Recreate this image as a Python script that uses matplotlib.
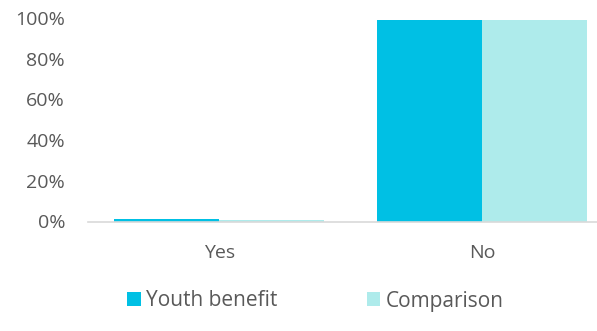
import matplotlib
matplotlib.use("Agg")

import matplotlib.pyplot as plt
import numpy as np

categories = ["Yes", "No"]
youth_benefit = [0.01, 0.99]
comparison = [0.005, 0.99]
y_ticks = [0, 0.2, 0.4, 0.6, 0.8, 1.0]
y_tick_labels = ["0%", "20%", "40%", "60%", "80%", "100%"]

plt.rcParams["font.family"] = ["Open Sans", "DejaVu Sans"]
TEXT = "#595959"

fig = plt.figure(figsize=(5.97, 3.31), dpi=100)
ax = fig.add_axes([88 / 597, 1 - 221.5 / 331, 1 - 88 / 597, (221.5 - 18) / 331])

x = np.arange(len(categories))
w = 0.4
ax.bar(x - w / 2, youth_benefit, w, color="#00C0E4", label="Youth benefit")
ax.bar(x + w / 2, comparison, w, color="#AEEBEB", label="Comparison")

ax.set_xlim(-0.5, 1.5 - 16.5 / 263)
ax.set_ylim(0, 1)
ax.set_xticks(x)
ax.set_xticklabels(categories)
ax.set_yticks(y_ticks)
ax.set_yticklabels(y_tick_labels)
ax.tick_params(length=0, labelsize=14, colors=TEXT)
ax.tick_params(axis="x", pad=16.5)
ax.tick_params(axis="y", pad=16.5)

for side in ["top", "right", "left"]:
    ax.spines[side].set_visible(False)
ax.spines["bottom"].set_color("#D9D9D9")
ax.spines["bottom"].set_linewidth(1.2)

leg = fig.legend(
    loc="center left", bbox_to_anchor=(127 / 597, 1 - 301 / 331), ncol=2,
    frameon=False, fontsize=15, handlelength=0.65, handleheight=0.65,
    handletextpad=0.25, columnspacing=4.3, labelcolor=TEXT,
    borderpad=0, borderaxespad=0,
)

fig.savefig("out.png", dpi=100)
